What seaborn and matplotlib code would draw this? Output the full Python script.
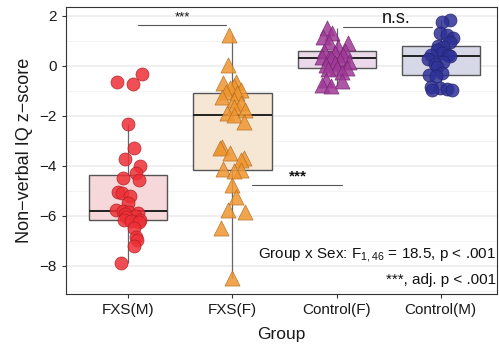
import numpy as np
import pandas as pd
import matplotlib
matplotlib.use("Agg")
import matplotlib.pyplot as plt
import seaborn as sns

# ---- data -------------------------------------------------------------
groups = ["FXS(M)", "FXS(F)", "Control(F)", "Control(M)"]

fxs_m = [-0.32, -0.64, -0.72, -2.33, -3.29, -3.73, -4.0, -4.3, -4.5, -4.55,
         -5.05, -5.1, -5.2, -5.5, -5.78, -5.8, -5.85, -5.88, -5.92, -6.0,
         -6.05, -6.15, -6.18, -6.22, -6.25, -6.5, -6.85, -6.95, -7.2, -7.87]
fxs_f = [1.25, 0.02, -0.65, -0.68, -0.8, -0.88, -0.95, -1.04, -1.1, -1.24,
         -1.36, -1.48, -1.64, -1.75, -1.88, -1.96, -2.24, -3.24, -3.3, -3.5,
         -3.68, -3.76, -4.14, -4.18, -4.22, -4.76, -5.24, -5.76, -5.84, -6.48,
         -8.48]
control_f = [1.5, 1.3, 1.16, 0.96, 0.92, 0.76, 0.6, 0.58, 0.52, 0.44,
             0.36, 0.32, 0.3, 0.24, 0.16, 0.1, 0.04, -0.08, -0.1, -0.12,
             -0.24, -0.56, -0.6, -0.76, -0.8]
control_m = [1.84, 1.76, 1.32, 1.24, 1.1, 0.96, 0.8, 0.76, 0.64, 0.52,
             0.44, 0.44, 0.4, 0.28, 0.16, 0.08, -0.04, -0.28, -0.36, -0.4,
             -0.84, -0.88, -0.92, -0.96, -0.96]

# horizontal jitter of each point (category units)
fxs_m_jitter = [0.13, -0.11, 0.04, 0.0, 0.05, -0.03, 0.11, 0.07, -0.05, 0.10,
                -0.10, -0.06, 0.02, 0.0, -0.12, -0.05, 0.01, 0.09, -0.03, 0.06,
                -0.02, 0.11, -0.04, 0.03, 0.10, 0.05, 0.07, 0.08, 0.05, -0.07]
fxs_f_jitter = [-0.03, -0.04, 0.03, -0.09, 0.01, -0.02, 0.08, -0.06, 0.04, -0.10,
                0.01, 0.08, 0.01, 0.12, -0.05, 0.01, 0.11, -0.10, -0.12, -0.02,
                0.11, 0.08, -0.09, 0.08, 0.01, 0.0, 0.03, -0.04, 0.12, -0.11,
                0.0]
control_f_jitter = [-0.09, -0.04, -0.13, -0.07, 0.11, 0.01, -0.12, 0.08, -0.02, 0.06,
                    -0.14, -0.07, -0.05, 0.03, 0.12, -0.02, -0.10, 0.0, 0.10, -0.08,
                    0.05, -0.10, 0.05, -0.14, -0.05]
control_m_jitter = [0.09, 0.01, -0.01, 0.06, 0.12, 0.09, -0.03, 0.02, -0.04, 0.01,
                    -0.09, 0.07, 0.09, -0.12, 0.02, -0.06, -0.04, 0.01, -0.11, -0.05,
                    -0.09, -0.01, 0.06, -0.08, 0.11]

values = [fxs_m, fxs_f, control_f, control_m]
jitters = [fxs_m_jitter, fxs_f_jitter, control_f_jitter, control_m_jitter]

frames = []
for i, (g, v, j) in enumerate(zip(groups, values, jitters)):
    frames.append(pd.DataFrame({"Group": g, "score": v,
                                "xpos": np.asarray(j) + i}))
df = pd.concat(frames, ignore_index=True)

# ---- styling ----------------------------------------------------------
point_colors = {"FXS(M)": "#ee2f36", "FXS(F)": "#ef9630",
                "Control(F)": "#a03a98", "Control(M)": "#2e3196"}
edge_colors = {"FXS(M)": "#a81d22", "FXS(F)": "#b06a20",
               "Control(F)": "#70246a", "Control(M)": "#1f2168"}
box_fills = {"FXS(M)": "#fbd3d6", "FXS(F)": "#fbe6cf",
             "Control(F)": "#eed6ec", "Control(M)": "#d4d5ea"}
markers = {"FXS(M)": "o", "FXS(F)": "^", "Control(F)": "^", "Control(M)": "o"}
sizes = {"o": 88, "^": 118}

sns.set_theme(style="white")
plt.rcParams["font.family"] = ["Liberation Sans", "DejaVu Sans"]
plt.rcParams["mathtext.fontset"] = "custom"
plt.rcParams["mathtext.rm"] = "Liberation Sans"
plt.rcParams["mathtext.it"] = "Liberation Sans"

fig = plt.figure(figsize=(4.99, 3.47), dpi=100)
ax = fig.add_axes([0.132, 0.153, 0.864, 0.827])

# grid (drawn beneath everything)
ax.set_axisbelow(True)
ax.set_yticks(np.arange(-8, 3, 2))
ax.set_yticks(np.arange(-9, 3, 2), minor=True)
ax.grid(True, which="major", color="#ebebeb", linewidth=1.1)
ax.grid(True, which="minor", axis="y", color="#f2f2f2", linewidth=0.6)

sns.boxplot(data=df, x="Group", y="score", hue="Group", order=groups,
            hue_order=groups, palette=box_fills, width=0.75, dodge=False,
            showfliers=False, showcaps=False, linecolor="#555555",
            linewidth=1.0, legend=False,
            medianprops={"color": "#222222", "linewidth": 1.4},
            whiskerprops={"color": "#666666", "linewidth": 0.9},
            ax=ax)

for g in groups:
    sub = df[df["Group"] == g]
    m = markers[g]
    sns.scatterplot(data=sub, x="xpos", y="score", marker=m, s=sizes[m],
                    color=point_colors[g], edgecolor=edge_colors[g],
                    linewidth=0.5, alpha=0.85, legend=False, ax=ax, zorder=3)

ax.set_xlim(-0.6, 3.54)
ax.set_ylim(-9.12, 2.36)
ax.set_xticks(range(len(groups)))
ax.set_xticklabels(groups)

for s in ax.spines.values():
    s.set_color("#333333")
    s.set_linewidth(0.8)
ax.tick_params(axis="both", which="major", direction="out", length=3,
               width=0.8, color="#333333", labelsize=11, labelcolor="#1a1a1a",
               left=True, bottom=True)
ax.tick_params(axis="y", which="minor", length=0)

ax.set_xlabel("Group", fontsize=12.5, color="#1a1a1a", labelpad=7)
ax.set_ylabel("Non\u2212verbal IQ z\u2212score", fontsize=13, color="#1a1a1a",
              labelpad=5)

# significance brackets
line_kw = dict(color="#555555", linewidth=0.8)
ax.plot([0.09, 0.94], [1.64, 1.64], **line_kw)
ax.text(0.52, 1.72, "***", ha="center", va="bottom", fontsize=9.5,
        color="#111111")
ax.plot([2.06, 2.92], [1.56, 1.56], **line_kw)
ax.text(2.57, 1.55, "n.s.", ha="center", va="bottom", fontsize=13,
        color="#111111")
ax.plot([1.19, 2.05], [-4.76, -4.76], **line_kw)
ax.text(1.63, -4.72, "***", ha="center", va="bottom", fontsize=11,
        fontweight="bold", color="#111111")

ax.text(0.998, 0.136, r"Group x Sex: F$_{1,46}$ = 18.5, p < .001",
        transform=ax.transAxes, ha="right", va="center", fontsize=11,
        color="#111111")
ax.text(0.998, 0.049, "***, adj. p < .001", transform=ax.transAxes,
        ha="right", va="center", fontsize=11, color="#111111")

fig.savefig("out.png", dpi=100)
